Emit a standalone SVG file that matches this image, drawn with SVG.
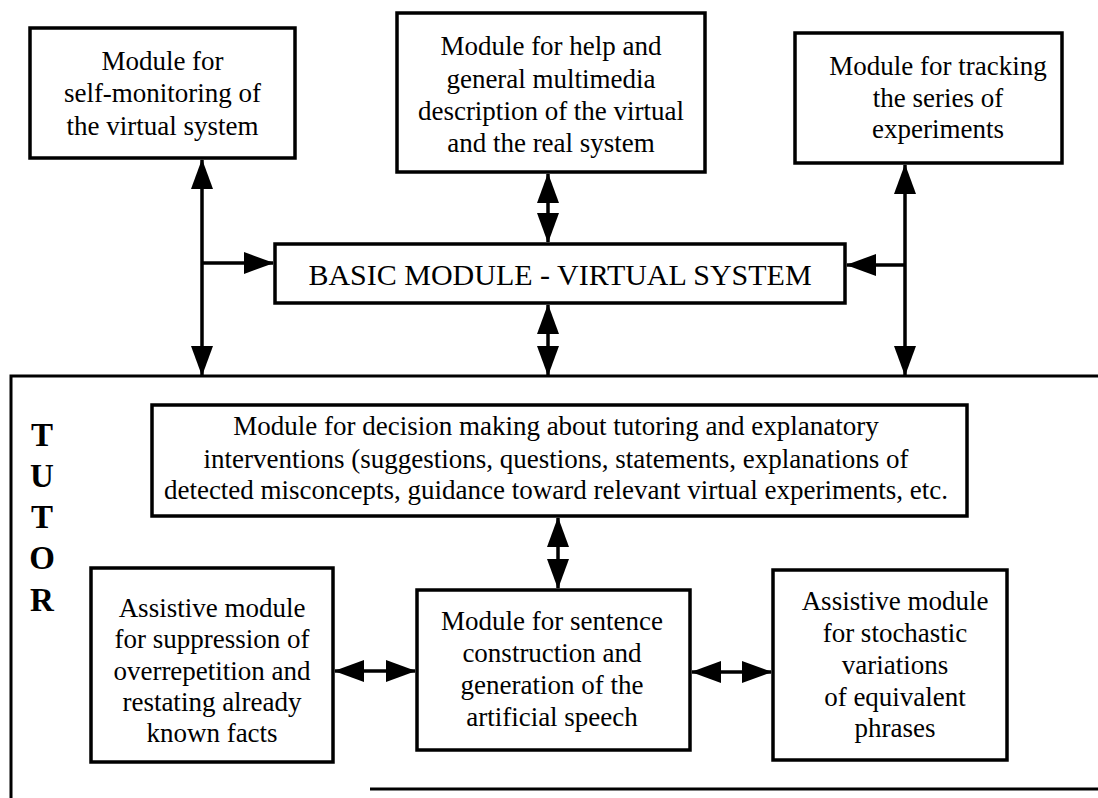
<svg xmlns="http://www.w3.org/2000/svg" width="1098" height="798" viewBox="0 0 1098 798">
<style>
.box{fill:#fff;stroke:#000;stroke-width:3.5}
.t{font-family:"Liberation Serif","Times New Roman",serif;font-size:27px;fill:#000;text-anchor:middle}
.big{font-size:30px}
.tut{font-family:"Liberation Serif","Times New Roman",serif;font-size:33px;font-weight:bold;fill:#000;text-anchor:middle}
.c{stroke:#000;stroke-width:3.5;fill:none}
.frame{stroke:#000;stroke-width:3;fill:none}
</style>
<defs>
<marker id="ah" markerUnits="userSpaceOnUse" markerWidth="30" markerHeight="22" refX="29" refY="11" orient="auto-start-reverse">
<path d="M0,0 L30,11 L0,22 z" fill="#000"/>
</marker>
</defs>
<rect width="1098" height="798" fill="#fff"/>
<g id="tutor">
<path class="frame" d="M11,798 L11,376 L1098,376"/>
<path class="frame" d="M370,789 L1098,789"/>
<text class="tut" x="42" y="446">T</text>
<text class="tut" x="42" y="487">U</text>
<text class="tut" x="42" y="528">T</text>
<text class="tut" x="42" y="569">O</text>
<text class="tut" x="42" y="611">R</text>
</g>
<g id="selfmon">
<rect class="box" x="30" y="28" width="265" height="130"/>
<text class="t" x="162.5" y="70">Module for</text>
<text class="t" x="162.5" y="102">self-monitoring of</text>
<text class="t" x="162.5" y="135">the virtual system</text>
</g>
<g id="help">
<rect class="box" x="397" y="13" width="308" height="159"/>
<text class="t" x="551" y="55">Module for help and</text>
<text class="t" x="551" y="88">general multimedia</text>
<text class="t" x="551" y="120">description of the virtual</text>
<text class="t" x="551" y="152">and the real system</text>
</g>
<g id="tracking">
<rect class="box" x="795" y="33" width="267" height="130"/>
<text class="t" x="938" y="75">Module for tracking</text>
<text class="t" x="938" y="107">the series of</text>
<text class="t" x="938" y="138">experiments</text>
</g>
<g id="basic">
<rect class="box" x="275" y="244" width="570" height="59"/>
<text class="t big" x="560" y="285">BASIC MODULE - VIRTUAL SYSTEM</text>
</g>
<g id="decision">
<rect class="box" x="152" y="405" width="815" height="111"/>
<text class="t" x="556" y="435">Module for decision making about tutoring and explanatory</text>
<text class="t" x="556" y="468">interventions (suggestions, questions, statements, explanations of</text>
<text class="t" x="556" y="499">detected misconcepts, guidance toward relevant virtual experiments, etc.</text>
</g>
<g id="suppression">
<rect class="box" x="91" y="568" width="242" height="194"/>
<text class="t" x="212" y="617">Assistive module</text>
<text class="t" x="212" y="648">for suppression of</text>
<text class="t" x="212" y="680">overrepetition and</text>
<text class="t" x="212" y="711">restating already</text>
<text class="t" x="212" y="742">known facts</text>
</g>
<g id="sentence">
<rect class="box" x="417" y="590" width="273" height="160"/>
<text class="t" x="552" y="630">Module for sentence</text>
<text class="t" x="552" y="662">construction and</text>
<text class="t" x="552" y="694">generation of the</text>
<text class="t" x="552" y="726">artificial speech</text>
</g>
<g id="stochastic">
<rect class="box" x="773" y="570" width="234" height="190"/>
<text class="t" x="895" y="610">Assistive module</text>
<text class="t" x="895" y="642">for stochastic</text>
<text class="t" x="895" y="674">variations</text>
<text class="t" x="895" y="706">of equivalent</text>
<text class="t" x="895" y="737">phrases</text>
</g>
<g id="connectors">
<line class="c" x1="202" y1="160" x2="202" y2="375" marker-start="url(#ah)" marker-end="url(#ah)"/>
<line class="c" x1="202" y1="263" x2="273" y2="263" marker-end="url(#ah)"/>
<line class="c" x1="548" y1="174" x2="548" y2="242" marker-start="url(#ah)" marker-end="url(#ah)"/>
<line class="c" x1="548" y1="305" x2="548" y2="375" marker-start="url(#ah)" marker-end="url(#ah)"/>
<line class="c" x1="905" y1="165" x2="905" y2="375" marker-start="url(#ah)" marker-end="url(#ah)"/>
<line class="c" x1="905" y1="265" x2="847" y2="265" marker-end="url(#ah)"/>
<line class="c" x1="558" y1="518" x2="558" y2="588" marker-start="url(#ah)" marker-end="url(#ah)"/>
<line class="c" x1="335" y1="671" x2="415" y2="671" marker-start="url(#ah)" marker-end="url(#ah)"/>
<line class="c" x1="692" y1="672" x2="771" y2="672" marker-start="url(#ah)" marker-end="url(#ah)"/>
</g>
</svg>
